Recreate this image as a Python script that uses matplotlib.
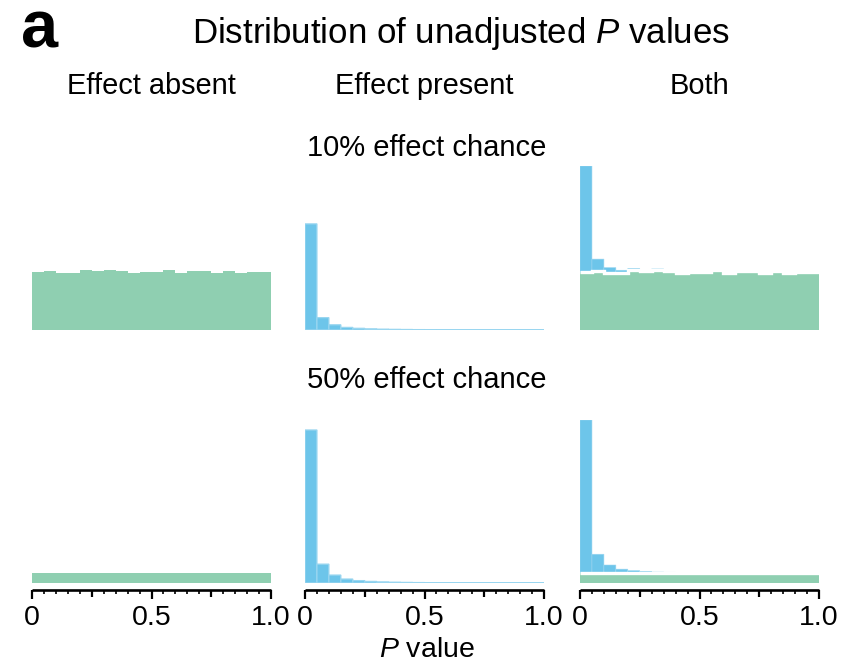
import numpy as np
import matplotlib
matplotlib.use("Agg")
import matplotlib.pyplot as plt
from matplotlib.ticker import FixedLocator, MultipleLocator, NullLocator

plt.rcParams['font.family'] = ['Liberation Sans', 'DejaVu Sans']
plt.rcParams['mathtext.fontset'] = 'custom'
plt.rcParams['mathtext.rm'] = 'Liberation Sans'
plt.rcParams['mathtext.it'] = 'Liberation Sans:italic'

# P-value bins of width 0.05
bin_edges = np.linspace(0.0, 1.0, 21)

# Counts per bin, 10% effect chance
null_10 = [889, 899, 878, 878, 920, 899, 925, 899, 878, 894,
           894, 925, 878, 899, 909, 868, 909, 878, 889, 889]
effect_10 = [1630, 190, 80, 40, 26, 18, 13, 10, 8, 6,
             5, 4, 3, 3, 2, 2, 2, 1, 1, 1]

# Counts per bin, 50% effect chance
null_50 = [502, 498, 505, 497, 500, 503, 496, 501, 499, 504,
           497, 500, 502, 498, 503, 499, 501, 496, 500, 502]
effect_50 = [7700, 950, 400, 200, 120, 80, 55, 40, 30, 22,
             17, 13, 10, 8, 6, 5, 4, 3, 2, 2]

column_titles = ["Effect absent", "Effect present", "Both"]
row_titles = ["10% effect chance", "50% effect chance"]
tick_values = [0, 0.25, 0.5, 0.75, 1.0]
tick_labels = ["0", "", "0.5", "", "1.0"]

GREEN = "#8fcfb1"
BLUE = "#6dc5ea"
BLUE_EDGE = "#9ad6f0"

W, H = 866, 663
fig = plt.figure(figsize=(W / 100, H / 100), dpi=100)


def fx(px):
    return px / W


def fy(py):
    return 1 - py / H


col_left = [32, 305, 580]
col_width = 239
# (baseline pixel, top pixel) for each row
row_span = [(330, 166), (583, 420)]
data_rows = [(null_10, effect_10), (null_50, effect_50)]

lefts = bin_edges[:-1]
width = np.diff(bin_edges)

for r, ((base, top), (null, effect)) in enumerate(zip(row_span, data_rows)):
    ymax = max(np.add(null, effect))
    for c in range(3):
        ax = fig.add_axes([fx(col_left[c]), fy(base), fx(col_width), (base - top) / H])
        if c == 0:
            ax.bar(lefts, null, width=width, align='edge', color=GREEN, linewidth=0)
        elif c == 1:
            ax.bar(lefts, effect, width=width, align='edge', color=BLUE,
                   edgecolor=BLUE_EDGE, linewidth=0.9, snap=False)
        else:
            ax.bar(lefts, null, width=width, align='edge', color=GREEN, linewidth=0)
            ax.bar(lefts, effect, width=width, align='edge', bottom=null,
                   color=BLUE, edgecolor=BLUE_EDGE, linewidth=0.4, snap=False)
            ax.stairs(null, bin_edges, baseline=None, color='white', linewidth=2.4)
        ax.set_xlim(0, 1)
        ax.set_ylim(0, ymax)
        for s in ("top", "right", "left"):
            ax.spines[s].set_visible(False)
        ax.yaxis.set_major_locator(NullLocator())
        if r == 0:
            ax.spines["bottom"].set_visible(False)
            ax.xaxis.set_major_locator(NullLocator())
        else:
            sp = ax.spines["bottom"]
            sp.set_position(("outward", 5))
            sp.set_linewidth(1.9)
            sp.set_capstyle("butt")
            ax.xaxis.set_major_locator(FixedLocator(tick_values))
            ax.set_xticklabels(tick_labels)
            ax.xaxis.set_minor_locator(MultipleLocator(0.05))
            ax.tick_params(axis='x', which='major', length=6.5, width=1.6,
                           pad=4, labelsize=20.5, direction='out')
            ax.tick_params(axis='x', which='minor', length=3.2, width=1.2,
                           direction='out')
            for t, v in zip(ax.xaxis.get_major_ticks(), tick_values):
                if v in (0.25, 0.75):
                    t.tick1line.set_markersize(4.8)

# Text
fig.text(fx(21), fy(47), "a", fontsize=48, fontweight='bold', ha='left', va='baseline')
fig.text(fx(461), fy(43), r"Distribution of unadjusted $\mathit{P}$ values",
         fontsize=25.1, ha='center', va='baseline')
for c, title in enumerate(column_titles):
    fig.text(fx(col_left[c] + col_width / 2), fy(94), title,
             fontsize=20.9, ha='center', va='baseline')
fig.text(fx(427), fy(156), row_titles[0], fontsize=21, ha='center', va='baseline')
fig.text(fx(427), fy(388), row_titles[1], fontsize=21, ha='center', va='baseline')
fig.text(fx(427), fy(657), r"$\mathit{P}$ value", fontsize=20.5, ha='center', va='baseline')

fig.savefig("out.png", dpi=100)
